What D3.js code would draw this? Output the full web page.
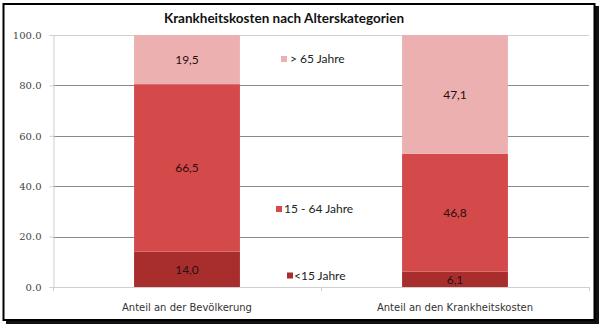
<!DOCTYPE html>
<html>
<head>
<meta charset="utf-8">
<script src="https://cdn.jsdelivr.net/npm/d3@7"></script>
<style>
  html, body { margin: 0; padding: 0; background: #fff; }
  svg { display: block; }
</style>
</head>
<body>
<svg id="chart" width="604" height="330"></svg>
<script>
// Krankheitskosten nach Alterskategorien — stacked shares in percent
const categories = ["Anteil an der Bevölkerung", "Anteil an den Krankheitskosten"];
const seriesNames = ["<15 Jahre", "15 - 64 Jahre", "> 65 Jahre"];
const under15 = [14.0, 6.1];
const age15to64 = [66.5, 46.8];
const over65 = [19.5, 47.1];
const yTicks = [0, 20, 40, 60, 80, 100];

const colors = ["#a82e2e", "#d44a4a", "#edb0b0"];
const seriesValues = [under15, age15to64, over65];

const svg = d3.select("#chart");

// Frame with drop shadow
svg.append("rect").attr("x", 6).attr("y", 6).attr("width", 593).attr("height", 318).attr("fill", "#111");
svg.append("rect").attr("x", 3.5).attr("y", 4).attr("width", 591).attr("height", 316)
  .attr("fill", "#fff").attr("stroke", "#000").attr("stroke-width", 2);

const plotLeft = 53, plotRight = 589, plotTop = 35, plotBottom = 287;

const x = d3.scaleBand().domain(categories).range([plotLeft, plotRight])
  .paddingInner(0.605).paddingOuter(0.3025);
const y = d3.scaleLinear().domain([0, 100]).range([plotBottom, plotTop]);

// Gridlines
svg.append("g").selectAll("line").data(yTicks.filter(t => t > 0)).join("line")
  .attr("x1", plotLeft).attr("x2", plotRight)
  .attr("y1", d => Math.round(y(d)) + 0.5).attr("y2", d => Math.round(y(d)) + 0.5)
  .attr("stroke", d => d === 100 ? "#d0d0d0" : "#8a8a8a").attr("stroke-width", 1);

// Y axis
const yAxis = d3.axisLeft(y).tickValues(yTicks).tickFormat(d3.format(".1f")).tickSize(4).tickPadding(8);
const gy = svg.append("g").attr("transform", `translate(${plotLeft + 0.5},0)`).call(yAxis);
gy.select(".domain").attr("stroke", "#cfcfcf");
gy.selectAll(".tick line").attr("stroke", "#cfcfcf");
gy.selectAll(".tick text").attr("fill", "#444").style("font-family", "DejaVu Serif").style("font-size", "10px");

// Stacked data
const stackData = categories.map((c, i) => {
  const o = { category: c };
  seriesNames.forEach((s, k) => { o[s] = seriesValues[k][i]; });
  return o;
});
const stack = d3.stack().keys(seriesNames)(stackData);

const layers = svg.append("g").selectAll("g").data(stack).join("g")
  .attr("fill", (d, i) => colors[i]);
layers.selectAll("rect").data(d => d).join("rect")
  .attr("x", d => x(d.data.category))
  .attr("width", x.bandwidth())
  .attr("y", d => y(d[1]))
  .attr("height", d => y(d[0]) - y(d[1]));

// Value labels
const fmt = v => d3.format(".1f")(v).replace(".", ",");
svg.append("g").selectAll("g").data(stack).join("g")
  .selectAll("text").data(d => d.map(p => ({ p, key: d.key }))).join("text")
  .attr("x", d => x(d.p.data.category) + x.bandwidth() / 2)
  .attr("y", d => (y(d.p[0]) + y(d.p[1])) / 2)
  .attr("dy", "0.36em")
  .attr("text-anchor", "middle")
  .attr("fill", "#2a0e0e")
  .style("font-family", "Lato, 'Open Sans', sans-serif")
  .style("font-size", "12px")
  .text(d => fmt(d.p.data[d.key]));

// X axis
const xAxisLine = svg.append("g");
xAxisLine.append("line").attr("x1", plotLeft).attr("x2", plotRight)
  .attr("y1", plotBottom + 0.5).attr("y2", plotBottom + 0.5).attr("stroke", "#cfcfcf");
const boundaries = [plotLeft, (plotLeft + plotRight) / 2, plotRight];
xAxisLine.selectAll("line.tk").data(boundaries).join("line").attr("class", "tk")
  .attr("x1", d => Math.round(d) + 0.5).attr("x2", d => Math.round(d) + 0.5)
  .attr("y1", plotBottom).attr("y2", plotBottom + 4).attr("stroke", "#cfcfcf");
svg.append("g").selectAll("text").data(categories).join("text")
  .attr("x", d => x(d) + x.bandwidth() / 2)
  .attr("y", 307).attr("dy", "0.35em")
  .attr("text-anchor", "middle")
  .attr("fill", "#333")
  .style("font-family", "'DejaVu Sans', sans-serif")
  .style("font-size", "10px")
  .text(d => d);

// Legend entries
const legendPos = [
  { name: "<15 Jahre", sx: 287, cy: 275.5, tx: 294 },
  { name: "15 - 64 Jahre", sx: 276, cy: 209, tx: 284 },
  { name: "> 65 Jahre", sx: 281, cy: 59, tx: 290 }
];
const legend = svg.append("g").selectAll("g").data(legendPos).join("g");
legend.append("rect")
  .attr("x", d => d.sx).attr("y", d => d.cy - 3).attr("width", 6).attr("height", 6)
  .attr("fill", (d, i) => colors[i]);
legend.append("text")
  .attr("x", d => d.tx).attr("y", d => d.cy).attr("dy", "0.36em")
  .attr("fill", "#222")
  .style("font-family", "Lato, 'Open Sans', sans-serif")
  .style("font-size", "12px")
  .text(d => d.name);

// Title
svg.append("text")
  .attr("x", 284).attr("y", 18).attr("dy", "0.35em")
  .attr("text-anchor", "middle")
  .attr("fill", "#111")
  .style("font-family", "Lato, sans-serif")
  .style("font-weight", "bold")
  .style("font-size", "13.5px")
  .text("Krankheitskosten nach Alterskategorien");
</script>
</body>
</html>
